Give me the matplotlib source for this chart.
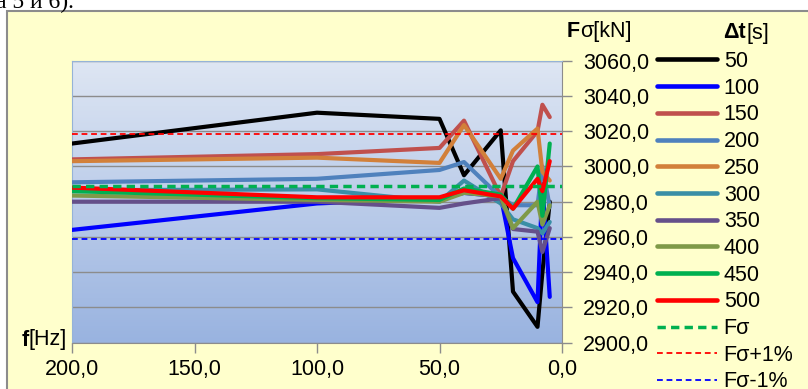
import numpy as np
import matplotlib
matplotlib.use("Agg")
import matplotlib.pyplot as plt
from matplotlib.patches import Rectangle
from matplotlib.colors import LinearSegmentedColormap
from matplotlib.ticker import FuncFormatter, MultipleLocator

plt.rcParams['font.family'] = ['Liberation Sans', 'DejaVu Sans']

# frequency points f[Hz]
freq = [200, 100, 50, 40, 25, 20, 10, 8, 5]

# F sigma [kN] for each delta t [s]
s50 = [3013, 3030.5, 3027, 2995, 3020.5, 2929, 2909, 2940, 2980]
s100 = [2964, 2979, 2982, 2985, 2983, 2948, 2923, 2990, 2926]
s150 = [3004, 3007, 3010.5, 3026, 2983, 3003, 3020, 3035, 3028]
s200 = [2991, 2993, 2998, 3002.5, 2982.5, 2978, 2978, 3000, 2977]
s250 = [3003, 3005, 3002, 3023.5, 2993, 3009, 3021.5, 2997, 2992]
s300 = [2986.5, 2987, 2980, 2992, 2979, 2970, 2965, 2962, 2968.5]
s350 = [2980, 2980, 2976.5, 2979, 2982, 2964.5, 2963, 2951.5, 2965]
s400 = [2983.5, 2981, 2980, 2985, 2983, 2965, 2980, 2967, 2978]
s450 = [2986, 2982, 2981, 2987.5, 2984, 2976, 3000, 2972, 3013]
s500 = [2988, 2982.5, 2982.5, 2986.5, 2983, 2976, 2993, 2986, 3003]

series = [s50, s100, s150, s200, s250, s300, s350, s400, s450, s500]
labels = ['50', '100', '150', '200', '250', '300', '350', '400', '450', '500']
colors = ['#000000', '#0000FF', '#C0504D', '#4F81BD', '#D2803A',
          '#3A8FA6', '#65508A', '#7F9A48', '#00B050', '#FF0000']

f_sigma = 2988.7
f_plus = f_sigma * 1.01
f_minus = f_sigma * 0.99

FS = 15.5
W, H = 808, 389
fig = plt.figure(figsize=(W / 100, H / 100), dpi=100)
fig.patch.set_facecolor('white')

# yellow chart frame
fig.patches.append(Rectangle((7 / W, -0.1), 1.1, 1 - 11 / H + 0.1,
                             transform=fig.transFigure, facecolor='#FFFFCC',
                             edgecolor='#8C8C8C', linewidth=1.5, zorder=-10))

# cut-off text of the document above the chart
fig.text(-4 / W, 1 - 8 / H, 'а 5 и 6).', family='Liberation Serif',
         fontsize=17, va='baseline', ha='left')

ax = fig.add_axes([72 / W, 1 - 342.7 / H, (562 - 72) / W, (342.7 - 60.7) / H])

# gradient background of the plot area
bg = LinearSegmentedColormap.from_list('bg', ['#DEE6F3', '#99B3E0'])
ax.imshow(np.linspace(0, 1, 256).reshape(-1, 1), cmap=bg,
          extent=[200, 0, 2900, 3060], aspect='auto', zorder=0, origin='upper')

handles = []
for vals, lab, col in zip(series, labels, colors):
    ln, = ax.plot(freq, vals, color=col, lw=3.0, label=lab, zorder=3,
                  solid_joinstyle='round', solid_capstyle='round')
    handles.append(ln)

h1 = ax.axhline(f_sigma, color='#00B050', lw=2.5, ls=(0, (2.4, 1.5)),
                label='Fσ', zorder=4)
h2 = ax.axhline(f_plus, color='#FF0000', lw=1.3, ls=(0, (3.2, 2.1)),
                label='Fσ+1%', zorder=4)
h3 = ax.axhline(f_minus, color='#0000FF', lw=1.3, ls=(0, (3.2, 2.1)),
                label='Fσ-1%', zorder=4)
handles += [h1, h2, h3]

ax.set_xlim(200, 0)
ax.set_ylim(2900, 3060)
ax.xaxis.set_major_locator(MultipleLocator(50))
ax.yaxis.set_major_locator(MultipleLocator(20))
fmt = FuncFormatter(lambda v, p: f'{v:.1f}'.replace('.', ','))
ax.xaxis.set_major_formatter(fmt)
ax.yaxis.set_major_formatter(fmt)
ax.yaxis.tick_right()
ax.tick_params(axis='both', direction='out', length=7, width=1,
               color='#8C8C8C', labelsize=FS, labelcolor='black')
ax.tick_params(axis='y', pad=8)
ax.tick_params(axis='x', pad=5)
ax.set_axisbelow(True)
ax.yaxis.grid(True, color='#8C8C8C', lw=1)

for side in ['left', 'top']:
    ax.spines[side].set_color('#95B3D7')
for side in ['right', 'bottom']:
    ax.spines[side].set_color('#8C8C8C')

# axis titles
fig.text(567 / W, 1 - 31.7 / H, 'F', fontsize=FS, fontweight='bold', va='center')
fig.text(580 / W, 1 - 31.7 / H, 'σ[kN]', fontsize=FS, va='center')
fig.text(22 / W, 1 - 340 / H, 'f', fontsize=FS, fontweight='bold', va='center')
fig.text(29 / W, 1 - 340 / H, '[Hz]', fontsize=FS, va='center')
fig.text(723 / W, 1 - 33 / H, 'Δt', fontsize=FS, fontweight='bold', va='center')
fig.text(746 / W, 1 - 33 / H, '[s]', fontsize=FS, va='center')

leg = fig.legend(handles, [h.get_label() for h in handles], loc='upper left',
                 bbox_to_anchor=(657 / W, 1 - 51 / H), bbox_transform=fig.transFigure,
                 frameon=False, fontsize=FS, handlelength=2.8, handletextpad=0.3,
                 labelspacing=0.265, borderpad=0, borderaxespad=0)
for ln in leg.get_lines()[:10]:
    ln.set_linewidth(3.3)

fig.savefig('out.png', dpi=100)
